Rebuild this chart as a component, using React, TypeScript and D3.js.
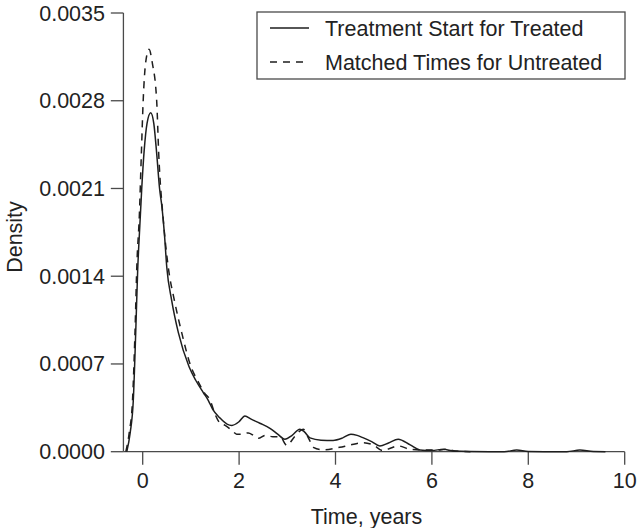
import React from "react";
import * as d3 from "d3";

// Treatment start for treated (solid)
const treatedTime = [
  -0.33, -0.26, -0.195, -0.145, -0.104, -0.06, -0.02, 0.03, 0.09, 0.166, 0.23, 0.29, 0.35, 0.4, 0.45, 0.5,
  0.6, 0.74, 0.96, 1.1, 1.26, 1.36, 1.45, 1.6, 1.75, 1.85, 2.0, 2.12, 2.25, 2.43, 2.64, 2.8, 2.95, 3.1,
  3.26, 3.35, 3.47, 3.7, 3.95, 4.15, 4.32, 4.45, 4.58, 4.75, 4.92, 5.1, 5.3, 5.55, 5.75, 6.0, 6.24, 6.45,
  6.8, 7.5, 7.76, 8.0, 8.8, 9.07, 9.35, 9.6,
];
const treatedDensity = [
  0, 0.00015, 0.00041, 0.00095, 0.00145, 0.0018, 0.0021, 0.0024, 0.00262, 0.002705, 0.00262, 0.00238,
  0.0021, 0.00195, 0.00174, 0.00147, 0.00121, 0.00095, 0.00068, 0.00057, 0.00047, 0.00041, 0.00034,
  0.00027, 0.00022, 0.00021, 0.00024, 0.000285, 0.00026, 0.000227, 0.000187, 0.00014, 0.0001, 0.00013,
  0.00018, 0.00016, 0.00011, 0.000092, 0.00009, 0.00011, 0.00014, 0.00013, 0.00011, 0.00008, 0.000046,
  0.00007, 0.0001, 0.000054, 0.000014, 0.00001, 0.000019, 0.000005, 0.000001, 0, 0.000013, 0.000001, 0,
  0.000013, 0.000001, 0,
];

// Matched times for untreated (dashed)
const untreatedTime = [
  -0.35, -0.28, -0.21, -0.16, -0.12, -0.07, -0.03, 0.01, 0.06, 0.131, 0.2, 0.29, 0.332, 0.427, 0.531,
  0.656, 0.809, 1.0, 1.15, 1.28, 1.4, 1.5, 1.6, 1.71, 1.85, 1.95, 2.05, 2.19, 2.3, 2.4, 2.54, 2.7, 2.85,
  2.99, 3.15, 3.33, 3.45, 3.54, 3.75, 4.09, 4.3, 4.577, 4.78, 4.985, 5.15, 5.303, 5.546, 5.753, 6.17, 6.31,
  6.48, 6.8,
];
const untreatedDensity = [
  0, 0.00015, 0.00042, 0.00095, 0.0015, 0.00188, 0.00235, 0.0028, 0.0031, 0.00321, 0.0031, 0.0028,
  0.00238, 0.00185, 0.00147, 0.00121, 0.00095, 0.00068, 0.00056, 0.00047, 0.00041, 0.0003, 0.00023,
  0.00021, 0.00017, 0.00014, 0.00014, 0.00015, 0.00013, 0.000107, 0.00013, 0.00012, 0.00012, 0.00005,
  0.00012, 0.000179, 0.0001, 0.000035, 0.000014, 0.000035, 0.000053, 0.000072, 0.000054, 0.000008,
  0.00003, 0.000046, 0.000019, 0.000014, 0.000014, 0.000019, 0.000005, 0,
];

const xTicks = [0, 2, 4, 6, 8, 10];
const yTicks = [0, 0.0007, 0.0014, 0.0021, 0.0028, 0.0035];
const legendLabels = ["Treatment Start for Treated", "Matched Times for Untreated"];

const FONT = "'Liberation Sans', Arial, Helvetica, sans-serif";

export default function App() {
  const x = d3.scaleLinear().domain([0, 10]).range([142.7, 624.7]);
  const y = d3.scaleLinear().domain([0, 0.0035]).range([451.7, 13]);
  const axisX0 = x(-0.4);

  const line = d3
    .line<[number, number]>()
    .x((d) => x(d[0]))
    .y((d) => y(d[1]))
    .curve(d3.curveMonotoneX);

  const treated = treatedTime.map((t, i) => [t, treatedDensity[i]] as [number, number]);
  const untreated = untreatedTime.map((t, i) => [t, untreatedDensity[i]] as [number, number]);

  const axisColor = "#4a4a4a";
  const textColor = "#222";
  const fs = 21.5;

  return (
    <svg
      width={637}
      height={528}
      style={{ position: "absolute", left: 0, top: 0, background: "#fff" }}
      fontFamily={FONT}
    >
      <rect x={0} y={0} width={637} height={528} fill="#fff" />
      {/* y axis */}
      <line x1={axisX0} x2={axisX0} y1={y(0.0035)} y2={y(0)} stroke={axisColor} strokeWidth={1.3} />
      {yTicks.map((v) => (
        <g key={"y" + v}>
          <line x1={axisX0 - 12.6} x2={axisX0} y1={y(v)} y2={y(v)} stroke={axisColor} strokeWidth={1.3} />
          <text x={105} y={y(v)} dy="0.35em" textAnchor="end" fontSize={fs} fill={textColor}>
            {v.toFixed(4)}
          </text>
        </g>
      ))}
      {/* x axis */}
      <line x1={axisX0} x2={x(10)} y1={y(0)} y2={y(0)} stroke={axisColor} strokeWidth={1.3} />
      {xTicks.map((v) => (
        <g key={"x" + v}>
          <line x1={x(v)} x2={x(v)} y1={y(0)} y2={y(0) + 13} stroke={axisColor} strokeWidth={1.3} />
          <text x={x(v)} y={488} textAnchor="middle" fontSize={fs} fill={textColor}>
            {v}
          </text>
        </g>
      ))}
      <text x={366.5} y={524} textAnchor="middle" fontSize={fs} fill={textColor}>
        Time, years
      </text>
      <text
        transform={`translate(21.5, 237) rotate(-90)`}
        textAnchor="middle"
        fontSize={fs}
        fill={textColor}
      >
        Density
      </text>

      {/* curves */}
      <path d={line(untreated) || ""} fill="none" stroke="#1e1e1e" strokeWidth={1.5} strokeDasharray="7,6" />
      <path d={line(treated) || ""} fill="none" stroke="#1e1e1e" strokeWidth={1.5} />

      {/* legend */}
      <rect x={257} y={12} width={368} height={67} fill="#fff" stroke={axisColor} strokeWidth={1.3} />
      <line x1={270} x2={309} y1={28} y2={28} stroke="#1e1e1e" strokeWidth={1.5} />
      <line x1={270} x2={309} y1={62} y2={62} stroke="#1e1e1e" strokeWidth={1.5} strokeDasharray="7,6" />
      <text x={325} y={28} dy="0.35em" fontSize={fs} fill={textColor}>
        {legendLabels[0]}
      </text>
      <text x={325} y={62} dy="0.35em" fontSize={fs} fill={textColor}>
        {legendLabels[1]}
      </text>
    </svg>
  );
}
